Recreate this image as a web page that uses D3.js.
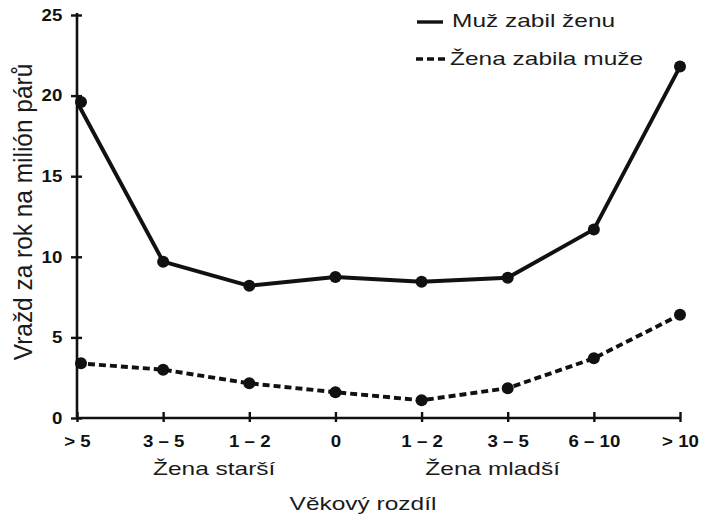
<!DOCTYPE html>
<html>
<head>
<meta charset="utf-8">
<script src="https://cdn.jsdelivr.net/npm/d3@7"></script>
<style>
  body { margin: 0; background: #fff; }
  svg { display: block; }
</style>
</head>
<body>
<script>
// data
const categories = ["> 5", "3 – 5", "1 – 2", "0", "1 – 2 ", "3 – 5 ", "6 – 10", "> 10"];
const muzZabilZenu = [19.6, 9.7, 8.2, 8.75, 8.45, 8.7, 11.7, 21.8];
const zenaZabilaMuze = [3.4, 3.0, 2.15, 1.6, 1.1, 1.85, 3.7, 6.4];
const yTicks = [0, 5, 10, 15, 20, 25];
const groupLabels = ["Žena starší", "Žena mladší"];
const legendLabels = ["Muž zabil ženu", "Žena zabila muže"];

const width = 712, height = 520;
const font = "'Liberation Sans', Arial, Helvetica, sans-serif";
const stretch = 1.36;

const svg = d3.select("body").append("svg")
    .attr("width", width)
    .attr("height", height);

const x = d3.scalePoint().domain(categories).range([77, 680]);
const y = d3.scaleLinear().domain([0, 25]).range([418, 15]);

// x axis
const xAxis = svg.append("g")
    .attr("transform", `translate(0,${y(0)})`)
    .call(d3.axisBottom(x).tickSize(0).tickPadding(17).tickSizeOuter(0));
xAxis.select(".domain").attr("stroke", "#111").attr("stroke-width", 2.6)
    .attr("d", `M${x.range()[0]},0H${x.range()[1]}`);
xAxis.selectAll(".tick line").attr("y1", -6).attr("y2", 4)
    .attr("stroke", "#111").attr("stroke-width", 2.4);
xAxis.selectAll(".tick text")
    .attr("font-family", font).attr("font-size", 16.5).attr("font-weight", "bold")
    .attr("fill", "#111").attr("transform", "scale(1.13,1)");

// y axis
const yAxis = svg.append("g")
    .attr("transform", `translate(${x.range()[0]},0)`)
    .call(d3.axisLeft(y).tickValues(yTicks).tickSize(0).tickPadding(13).tickSizeOuter(0));
yAxis.select(".domain").attr("stroke", "#111").attr("stroke-width", 2.6)
    .attr("d", `M0,${y(0)}V${y(25) - 2}`);
yAxis.selectAll(".tick line").attr("x1", -6).attr("x2", 5)
    .attr("stroke", "#111").attr("stroke-width", 2.4);
yAxis.selectAll(".tick text")
    .attr("font-family", font).attr("font-size", 16.5).attr("font-weight", "bold")
    .attr("fill", "#111").attr("transform", "scale(1.13,1)");

// lines
const line = d3.line()
    .x((d, i) => x(categories[i]))
    .y(d => y(d));

svg.append("path")
    .datum(muzZabilZenu)
    .attr("fill", "none")
    .attr("stroke", "#111")
    .attr("stroke-width", 3.9)
    .attr("stroke-linejoin", "round")
    .attr("d", line);

svg.append("path")
    .datum(zenaZabilaMuze)
    .attr("fill", "none")
    .attr("stroke", "#111")
    .attr("stroke-width", 3.9)
    .attr("stroke-dasharray", "7,4")
    .attr("d", line);

[muzZabilZenu, zenaZabilaMuze].forEach(series => {
    svg.append("g").selectAll("circle")
        .data(series)
        .enter()
        .append("circle")
        .attr("cx", (d, i) => x(categories[i]) + (i === 0 ? 4 : 0))
        .attr("cy", d => y(d))
        .attr("r", 6)
        .attr("fill", "#111");
});

// labels
function label(txt, tx, ty, rot, size, sx) {
    svg.append("text")
        .attr("transform", `translate(${tx},${ty}) rotate(${rot || 0}) scale(${sx || stretch},1)`)
        .attr("text-anchor", "middle")
        .attr("font-family", font)
        .attr("font-size", size || 18)
        .attr("fill", "#1a1a1a")
        .text(txt);
}

label(groupLabels[0], (x(categories[1]) + x(categories[2])) / 2 + 8, 475);
label(groupLabels[1], (x(categories[4]) + x(categories[5])) / 2 + 28, 475);
label("Věkový rozdíl", 363, 510);
label("Vražd za rok na milión párů", 32, 212, -90, 26, 0.94);

// legend
const legend = svg.append("g");
legend.append("line")
    .attr("x1", 417).attr("x2", 443).attr("y1", 22).attr("y2", 22)
    .attr("stroke", "#111").attr("stroke-width", 3.4);
legend.append("line")
    .attr("x1", 416).attr("x2", 445).attr("y1", 59).attr("y2", 59)
    .attr("stroke", "#111").attr("stroke-width", 3.4)
    .attr("stroke-dasharray", "7,4");
legendLabels.forEach((t, i) => {
    legend.append("text")
        .attr("transform", `translate(${i === 0 ? 452 : 450},${i === 0 ? 27 : 65}) scale(${stretch},1)`)
        .attr("font-family", font)
        .attr("font-size", 18)
        .attr("fill", "#1a1a1a")
        .text(t);
});
</script>
</body>
</html>
